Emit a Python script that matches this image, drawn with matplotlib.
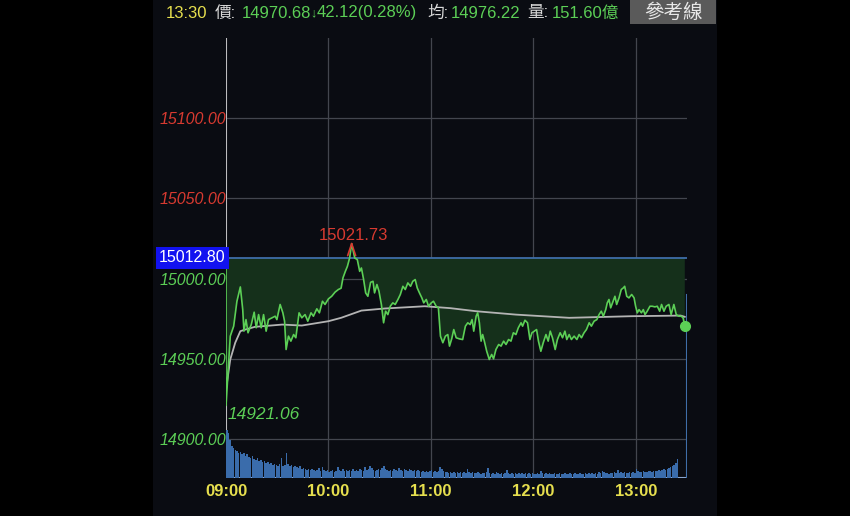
import matplotlib
matplotlib.use('Agg')
import matplotlib.pyplot as plt
from matplotlib.patches import Rectangle
import numpy as np

# reference (previous close) and intraday data, minutes after 09:00
ref_price = 15012.80
price_min = [0, 0, 2.5, 4.5, 6.4, 8.4, 9.8, 10.5, 11.7, 12.9, 14.8, 16.5, 17.7, 19.1, 20.6, 22.0,
             23.5, 24.9, 26.9, 28.8, 29.8, 31.7, 33.3, 34.3, 35.2, 36.6, 38.0, 39.6, 40.9, 42.8,
             44.4, 46.3, 47.9, 49.8, 51.2, 53.2, 54.7, 56.5, 58.0, 60.0, 61.9, 63.9, 65.8, 67.4,
             68.5, 69.9, 71.1, 72.4, 73.6, 75.4, 76.9, 78.3, 79.3, 80.6, 81.8, 83.1, 84.7, 86.1,
             87.0, 88.4, 89.6, 91.0, 92.3, 93.5, 94.8, 96.2, 97.7, 99.1, 100.7, 102.1, 103.6,
             105.0, 106.5, 108.1, 109.4, 110.8, 112.0, 113.3, 114.7, 115.8, 117.3, 118.6, 120.2,
             121.5, 123.1, 124.4, 125.6, 127.0, 128.5, 129.9, 130.9, 132.2, 133.4, 134.8, 136.7,
             138.6, 140.2, 141.6, 143.0, 144.1, 145.1, 146.5, 147.4, 148.4, 149.4, 150.3, 151.3,
             152.7, 154.2, 155.6, 156.7, 158.1, 159.7, 161.1, 162.6, 164.0, 165.5, 166.9, 168.3,
             169.8, 171.2, 172.8, 173.7, 175.1, 176.6, 178.0, 179.2, 180.5, 181.9, 183.0, 184.4,
             185.8, 187.4, 188.7, 189.9, 191.2, 192.8, 194.1, 195.7, 197.1, 198.5, 199.6, 201.0,
             202.3, 203.9, 205.5, 206.8, 208.2, 209.7, 211.1, 212.7, 214.0, 215.6, 217.2, 218.5,
             219.8, 221.0, 222.4, 223.3, 224.3, 225.3, 226.7, 227.8, 228.8, 230.2, 231.5, 232.7,
             233.5, 234.7, 236.0, 237.6, 239.0, 239.9, 240.9, 241.9, 243.3, 244.4, 245.4, 246.7,
             248.3, 249.6, 251.2, 252.6, 254.0, 255.1, 256.5, 257.8, 259.4, 260.7, 262.3, 263.7,
             265.2, 266.6, 267.7, 268.7]
price = [15012.80, 14921.06, 14964.2, 14970.4, 14985.9, 14994.8, 14980.7, 14967.3, 14974.5, 14966.3,
         14971.4, 14979.1, 14969.4, 14977.6, 14969.4, 14977.6, 14967.3, 14974.5, 14975.6, 14976.6,
         14974.5, 14983.9, 14978.7, 14973.5, 14955.9, 14964.2, 14961.1, 14965.2, 14963.2, 14978.7,
         14975.6, 14977.6, 14973.5, 14978.7, 14976.6, 14981.2, 14978.7, 14985.9, 14983.9, 14987.4,
         14989.0, 14991.6, 14993.2, 14994.0, 15000.4, 15004.5, 15007.6, 15012.8, 15021.73, 15012.8,
         15011.8, 15004.5, 15006.6, 14999.4, 14991.1, 14989.0, 14997.7, 14998.3, 14991.1, 14996.3,
         14992.1, 14983.9, 14972.5, 14979.7, 14977.6, 14982.8, 14984.9, 14983.9, 14987.0, 14990.1,
         14995.2, 14993.2, 14997.3, 14995.2, 14998.3, 14999.4, 14994.2, 14991.1, 14988.0, 14984.9,
         14987.0, 14982.8, 14984.9, 14985.9, 14982.8, 14981.8, 14964.2, 14960.1, 14964.2, 14965.2,
         14958.0, 14962.6, 14968.3, 14963.2, 14962.5, 14962.1, 14970.4, 14972.5, 14971.4, 14974.5,
         14967.3, 14976.6, 14978.7, 14972.5, 14961.1, 14965.2, 14961.1, 14954.8, 14949.7, 14952.8,
         14950.1, 14955.9, 14959.0, 14958.0, 14961.1, 14959.0, 14962.1, 14961.1, 14966.3, 14965.2,
         14969.4, 14972.5, 14970.4, 14974.1, 14972.5, 14962.1, 14966.3, 14967.3, 14968.3, 14961.1,
         14954.8, 14960.1, 14965.2, 14961.1, 14967.3, 14963.2, 14955.9, 14962.1, 14966.3, 14963.2,
         14967.3, 14962.1, 14965.2, 14962.1, 14964.2, 14962.1, 14965.2, 14963.2, 14966.3, 14968.3,
         14972.5, 14970.4, 14973.5, 14974.5, 14977.6, 14979.7, 14976.6, 14980.7, 14984.9, 14987.0,
         14981.8, 14985.9, 14989.0, 14983.9, 14988.0, 14993.2, 14994.2, 14995.2, 14989.0, 14988.0,
         14990.1, 14988.0, 14982.8, 14978.7, 14980.7, 14978.7, 14980.7, 14977.6, 14979.7, 14982.8,
         14982.8, 14982.4, 14982.8, 14979.7, 14983.9, 14979.7, 14982.8, 14983.9, 14977.6, 14983.9,
         14977.6, 14976.6, 14976.6, 14975.6, 14970.68]

avg_min = [0, 2.5, 5.4, 8.4, 11.3, 17, 32.9, 44.4, 60, 67.4, 79.3, 93, 116.4, 131.5, 146.5,
           169.8, 201, 237.2, 266.3, 268.7]
avg_price = [14931.0, 14949.7, 14960.1, 14967.3, 14968.3, 14970.0, 14971.4, 14970.8, 14973.5,
             14975.6, 14980.1, 14981.4, 14982.8, 14981.6, 14979.7, 14977.6, 14975.6, 14976.6,
             14977.0, 14976.22]

# per-minute volume (relative units), 09:00 .. 13:24
volume = [48, 45, 38, 32, 30, 28,
          27, 25, 26, 24, 25, 22, 24, 21, 20, 22, 19, 18, 20, 17, 18,
          16, 17, 15, 16, 14, 15, 13, 14, 13, 12, 14, 20, 12, 13, 25,
          14, 12, 13, 11, 12, 11, 10, 12, 9, 10, 9, 8, 9, 8, 9,
          8, 7, 8, 10, 7, 11, 8, 7, 8, 6, 7, 8, 6, 7, 11,
          8, 7, 9, 7, 8, 7, 8, 7, 9, 7, 8, 7, 9, 8, 7,
          11, 8, 9, 12, 10, 8, 7, 8, 9, 8, 10, 12, 9, 8, 7,
          8, 7, 9, 8, 7, 10, 8, 7, 9, 8, 7, 9, 8, 7, 8,
          7, 8, 7, 6, 7, 6, 7, 6, 7, 8, 6, 7, 6, 7, 11,
          9, 7, 6, 6, 5, 6, 5, 6, 5, 6, 5, 6, 5, 6, 5,
          9, 6, 5, 6, 5, 5, 6, 5, 4, 5, 5, 6, 10, 5, 4,
          5, 4, 6, 5, 4, 5, 4, 5, 8, 5, 4, 5, 4, 5, 4,
          5, 4, 5, 4, 5, 4, 5, 4, 5, 4, 4, 5, 4, 7, 5,
          4, 5, 4, 5, 4, 4, 5, 4, 4, 5, 4, 4, 5, 4, 4,
          5, 4, 4, 5, 4, 4, 5, 4, 4, 5, 4, 5, 4, 5, 4,
          5, 4, 6, 5, 7, 6, 5, 5, 4, 5, 5, 6, 5, 8, 5,
          6, 5, 6, 5, 5, 6, 5, 6, 5, 9, 7, 6, 6, 7, 6,
          6, 7, 7, 6, 7,
          7, 7, 8, 7, 8, 9, 8, 9, 10, 11, 12, 13, 15, 19]

y_ticks = [14900, 14950, 15000, 15050, 15100]
x_ticks = [0, 60, 120, 180, 240]
x_labels = ['09:00', '10:00', '11:00', '12:00', '13:00']

# colours
panel = '#0a0c12'
green = '#5ccf56'
red = '#d83a30'
yellow = '#e6df4e'
fill_green = '#15301b'
ref_blue = '#3f6ea8'
vol_blue = '#3a6cab'

fonts = ['Liberation Sans', 'Noto Sans CJK TC', 'DejaVu Sans']
plt.rcParams['font.family'] = fonts

fig = plt.figure(figsize=(8.5, 5.16), dpi=100, facecolor='black')
fig.patches.append(Rectangle((153 / 850, 0), 564 / 850, 1, transform=fig.transFigure,
                             facecolor=panel, edgecolor='none', zorder=-10))

ax = fig.add_axes([226 / 850, 38 / 516, 461 / 850, 440 / 516])
ax.set_facecolor(panel)
half = 136.8
ax.set_xlim(0, 270)
ax.set_ylim(ref_price - half, ref_price + half)
for s in ax.spines.values():
    s.set_visible(False)

ax.set_yticks(y_ticks)
ax.set_yticklabels([f'{v:.2f}' for v in y_ticks])
ax.set_xticks(x_ticks)
ax.set_xticklabels(x_labels)
ax.grid(True, color='#43464e', lw=0.9)
ax.set_axisbelow(True)
ax.tick_params(length=0)
ax.tick_params(axis='y', pad=0, labelsize=11.5)
ax.tick_params(axis='x', pad=4, labelsize=12, labelcolor=yellow)
for lab in ax.get_xticklabels():
    lab.set_fontweight('bold')
for v, lab in zip(y_ticks, ax.get_yticklabels()):
    lab.set_color(red if v > ref_price else green)
    lab.set_fontstyle('italic')

# volume on its own scale
ax2 = ax.twinx()
ax2.bar(np.arange(len(volume)), volume, width=0.9, align='edge', color=vol_blue, lw=0, zorder=1)
ax2.set_ylim(0, max(volume) * 440 / 48)
ax2.set_yticks([])
for s in ax2.spines.values():
    s.set_visible(False)

# frame lines
ax.axvline(0, color='#d6d6d6', lw=1.2, zorder=2)
ax.axhline(ref_price - half, color='#8aa6cf', lw=1.5, zorder=2)
ax.axvline(270, ymin=0, ymax=0.416, color=ref_blue, lw=1.5, zorder=2)

# price area
p_min = np.array(price_min)
p_val = np.array(price)
ax.fill_between(p_min, p_val, ref_price, where=p_val <= ref_price, interpolate=True,
                color=fill_green, lw=0, zorder=2)
ax.axhline(ref_price, color=ref_blue, lw=1.3, zorder=3)
ax.plot(avg_min, avg_price, color='#b4b4b4', lw=1.3, zorder=4)
ax.plot(p_min, p_val, color=green, lw=1.2, zorder=5)
ax.plot(p_min[-1], p_val[-1], 'o', color=green, ms=7, zorder=6, clip_on=False)

# high / low labels
hi = int(np.argmax(p_val))
lo = int(np.argmin(p_val))
for dx in (-4, 4):
    ax.annotate('', xy=(p_min[hi], p_val[hi]), xytext=(dx, -12), textcoords='offset pixels',
                arrowprops=dict(arrowstyle='-', color=red, lw=1.2, shrinkA=0, shrinkB=0), zorder=6)
ax.annotate(f'{p_val[hi]:.2f}', xy=(p_min[hi], p_val[hi]), xytext=(2, 1), textcoords='offset pixels',
            ha='center', va='bottom', color=red, fontsize=12, zorder=6)
ax.annotate(f'{p_val[lo]:.2f}', xy=(p_min[lo], p_val[lo]), xytext=(2, -9), textcoords='offset pixels',
            ha='left', va='center', color=green, fontsize=12.5, fontstyle='italic', zorder=6)

# reference price tag
ax.text(-0.3, ref_price, f'{ref_price:.2f}', transform=ax.transData, ha='right', va='center',
        color='white', fontsize=11.5, zorder=7,
        bbox=dict(boxstyle='square,pad=0.2', facecolor='#1212f0', edgecolor='none'))

# header line
def top(x, s, color, size=12):
    fig.text(x / 850, 1 - 13 / 516, s, color=color, fontsize=size, ha='left', va='center')

last = price[-1]
chg = ref_price - last
top(166, '13:30', yellow)
top(215, '價:', '#d8d8d8')
top(242, f'{last:.2f}', green)
top(310, '↓', green, 9)
top(317, f'{chg:.2f}({chg / ref_price * 100:.2f}%)', green)
top(427, '均:', '#d8d8d8')
top(451, f'{avg_price[-1]:.2f}', green)
top(527, '量:', '#d8d8d8')
top(552, '151.60億', green)

fig.patches.append(Rectangle((630 / 850, 1 - 24 / 516), 86 / 850, 24 / 516, transform=fig.transFigure,
                             facecolor='#5a5a5a', edgecolor='none', zorder=-5))
fig.text(673 / 850, 1 - 12 / 516, '參考線', color='#e8e8e8', fontsize=14, ha='center', va='center',
         family=['Noto Sans CJK TC', 'DejaVu Sans'])

fig.savefig('out.png', dpi=100, facecolor='black')
